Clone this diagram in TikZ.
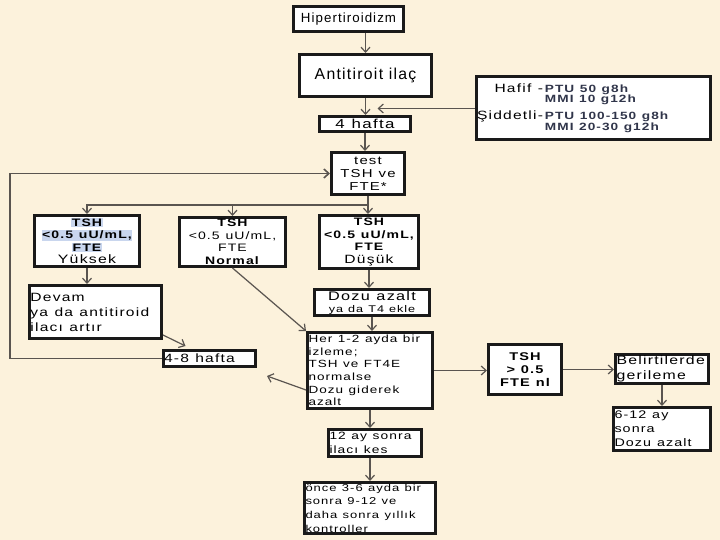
\documentclass[tikz,border=0pt]{standalone}
\usepackage{fontspec}
\setmainfont{Liberation Sans}
\newfontfamily\wf[LetterSpace=8]{Liberation Sans}
\newfontfamily\wx[FakeStretch=1.3,LetterSpace=10,WordSpace=1.15]{Liberation Sans}
\usetikzlibrary{arrows.meta}
\definecolor{bg}{HTML}{FCF2DC}
\definecolor{lnc}{HTML}{5A5550}
\definecolor{bd}{HTML}{1A1A1A}
\definecolor{bt}{HTML}{30354A}
\definecolor{hl}{HTML}{C9D6EE}
\newcommand{\hlt}[1]{{\setlength{\fboxsep}{0.6pt}\colorbox{hl}{#1}}}
\newcommand{\fs}[2]{\fontsize{#1}{#2}\selectfont}
\newcommand{\ns}{\spaceskip=0pt\xspaceskip=0pt\relax}
\tikzset{
  box/.style={draw=bd, line width=3pt, fill=white, inner sep=2pt, text=black,
    font=\wx\fs{11}{12.5}, align=center},
  lbox/.style={box, align=left, inner sep=1pt, execute at begin node=\ns},
  arr/.style={draw=lnc, line width=1.2pt, -{Straight Barb[length=5pt,width=9pt]}},
  lnk/.style={draw=lnc, line width=1.2pt},
}
\begin{document}
\begin{tikzpicture}[x=1pt,y=-1pt]
\fill[bg] (0,0) rectangle (720,540);
\useasboundingbox (0,0) rectangle (720,540);

% nodes
\node[box, minimum width=110pt, minimum height=25pt, font=\wf\fs{13.3}{15}] (hip) at (348.5,19) {Hipertiroidizm};
\node[box, minimum width=132pt, minimum height=42pt, font=\wf\fs{15.8}{17}] (anti) at (365.5,75.5) {Antitiroit ila\c{c}};
\node[lbox, text width=230pt, minimum height=63pt, inner sep=2pt, font=\wx\fs{12}{10.3}] (hafif) at (593,108.5)
  {\hspace*{-1pt}\begin{tabular}{@{}r@{\,}l@{}}Hafif -&\textcolor{bt}{\bfseries\fs{10.5}{10.3}PTU 50 g8h}\\
   &\textcolor{bt}{\bfseries\fs{10.5}{10.3}MMI 10 g12h}\\[5pt]
   \c{S}iddetli-&\textcolor{bt}{\bfseries\fs{10.5}{10.3}PTU 100-150 g8h}\\
   &\textcolor{bt}{\bfseries\fs{10.5}{10.3}MMI 20-30 g12h}\end{tabular}};
\node[box, minimum width=91pt, minimum height=15pt, inner sep=0pt, font=\wx\fs{13}{13}] (h4) at (365,124) {4 hafta};
\node[box, minimum width=73pt, minimum height=42pt, inner sep=0pt, font=\wx\fs{11.5}{13}] (test) at (368,173.5) {test\\TSH ve\\FTE*};
\node[box, minimum width=105pt, minimum height=51pt, inner sep=0pt, font=\wx\fs{10.8}{12.5}] (yuk) at (87,241)
  {\hlt{\bfseries TSH}\\\hlt{\bfseries <0.5 uU/mL,}\\\hlt{\bfseries FTE}\\{\fs{12.2}{12.5}Yüksek}};
\node[box, minimum width=106pt, minimum height=49pt, inner sep=0pt, font=\wx\fs{10.8}{12.5}] (nor) at (232.5,242)
  {\bfseries TSH\\<0.5 uU/mL,\\FTE\\\textbf{Normal}};
\node[box, minimum width=99pt, minimum height=53pt, inner sep=0pt, font=\wx\fs{10.8}{12.5}] (dus) at (369,242)
  {\bfseries TSH\\\bfseries <0.5 uU/mL,\\\bfseries FTE\\{\fs{12}{12.5}Düşük}};
\node[lbox, text width=130pt, minimum height=53pt, font=\wx\fs{12}{15}] (devam) at (95.5,312)
  {Devam\\ya da antitiroid\\ilacı artır};
\node[box, minimum width=115pt, minimum height=26pt, inner sep=0pt, font=\wx\fs{12.5}{12}] (doz) at (372,302.5)
  {Dozu azalt\\{\fs{9.7}{11}ya da T4 ekle}};
\node[lbox, text width=91pt, minimum height=16pt, inner sep=0.5pt, font=\wx\fs{12}{12}] (h48) at (209.5,358.5) {4-8 hafta};
\node[lbox, text width=123pt, minimum height=76pt, font=\wx\fs{10.4}{12.6}] (her) at (370,370.5)
  {Her 1-2 ayda bir\\izleme;\\TSH ve FT4E\\normalse\\Dozu giderek\\azalt};
\node[box, minimum width=73pt, minimum height=50pt, inner sep=0pt, font=\wx\bfseries\fs{11.2}{13}] (tsh5) at (525,369.5)
  {TSH\\> 0.5\\FTE nl};
\node[lbox, text width=91pt, minimum height=29pt, font=\wx\fs{12.2}{15}] (bel) at (662,369)
  {Belirtilerde\\gerileme};
\node[lbox, text width=95pt, minimum height=43pt, font=\wx\fs{11}{14}] (ay612) at (662,429)
  {6-12 ay\\sonra\\Dozu azalt};
\node[lbox, text width=91pt, minimum height=27pt, font=\wx\fs{10.6}{14}] (ay12) at (375,443)
  {12 ay sonra\\ilacı kes};
\node[lbox, text width=129pt, minimum height=51pt, font=\wx\fs{10}{13.7}] (once) at (370,508)
  {önce 3-6 ayda bir\\sonra 9-12 ve\\daha sonra yıllık\\kontroller};

% connectors
\draw[arr] (hip.south -| anti.north) -- (anti.north);
\draw[arr] (anti.south) -- (anti.south |- h4.north);
\draw[arr] (hafif.west) -- ([xshift=12pt]hafif.west -| anti.south);
\draw[arr] (h4.south) -- (h4.south |- test.north);
\draw[lnk] (test.south) -- ++(0,9) coordinate (bus);
\draw[arr] (bus) -| (yuk.north);
\draw[arr] (bus) -| (nor.north);
\draw[arr] (bus) -- (bus |- dus.north);
\draw[arr, line width=1.6pt] (h48.west) -- ++(-152,0) |- (test.west);
\draw[arr] (yuk.south) -- (yuk.south |- devam.north);
\draw[arr] (nor.south) -- (her.north west);
\draw[arr] (dus.south) -- (dus.south |- doz.north);
\draw[arr] (doz.south) -- (doz.south |- her.north);
\draw[arr] ([yshift=5pt]devam.south east) -- ([xshift=-24pt,yshift=3pt]h48.north);
\draw[arr] ([yshift=-19.5pt]her.west) -- ([xshift=10pt,yshift=-8pt]h48.south east);
\draw[arr] (her.east) -- (her.east -| tsh5.west);
\draw[arr] (tsh5.east) -- (tsh5.east -| bel.west);
\draw[arr] (bel.south) -- (bel.south |- ay612.north);
\draw[arr] (her.south) -- (her.south |- ay12.north);
\draw[arr] (ay12.south -| once.north) -- (once.north);
\end{tikzpicture}
\end{document}
